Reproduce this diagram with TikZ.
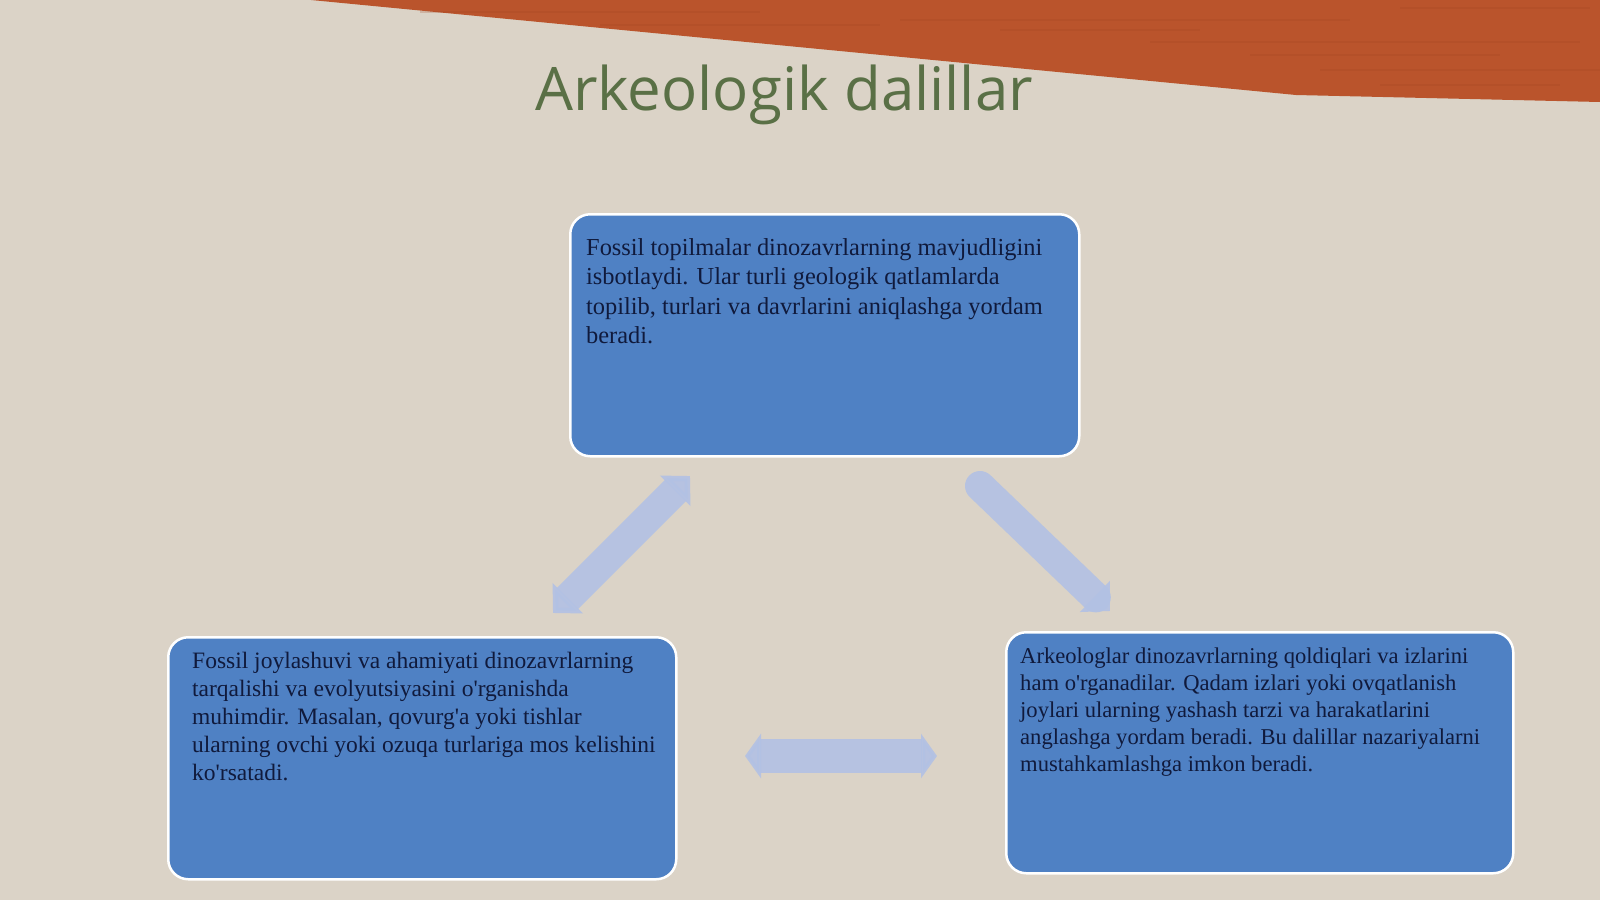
\documentclass[tikz,border=0pt]{standalone}
\usepackage{fontspec}
\setmainfont{Liberation Serif}
\newfontfamily\titlefont{Open Sans}
\usetikzlibrary{arrows.meta}
\definecolor{bgbeige}{RGB}{219,211,199}
\definecolor{bandred}{RGB}{186,84,44}
\definecolor{banddark}{RGB}{160,66,32}
\definecolor{boxblue}{RGB}{79,129,196}
\definecolor{txtnavy}{RGB}{16,26,60}
\definecolor{titlegreen}{RGB}{90,112,70}
\definecolor{arrowblue}{RGB}{178,193,228}
\newcommand{\apq}{\textquotesingle}
\tikzset{
  infobox/.style={draw=white, line width=2.5pt, fill=boxblue, rounded corners=20pt, anchor=north west, inner sep=0pt},
  boxtext/.style={anchor=base west, align=left, inner sep=0pt, text=txtnavy},
  blockarrow/.style={draw=arrowblue, line width=30pt, opacity=0.9},
}
\begin{document}
\begin{tikzpicture}[x=1pt,y=-1pt]
\useasboundingbox (0,0) rectangle (1600,900);
% background
\fill[bgbeige] (0,0) rectangle (1600,900);
% red band
\fill[bandred] (311,0) -- (1296,95) -- (1470,99) -- (1600,102) -- (1600,0) -- cycle;
\foreach \yy/\xa/\xb in {12/420/760, 20/900/1350, 30/1000/1200, 42/1150/1580, 55/1250/1500, 70/1320/1600, 85/1380/1560, 8/1400/1590, 25/600/880}{
  \draw[banddark,line width=2pt,opacity=0.22] (\xa,\yy) -- (\xb,\yy);
}
% title
\node[anchor=base, text=titlegreen, font=\titlefont\fontsize{60}{68}\selectfont] (title) at (784,110) {Arkeologik dalillar};
% boxes
\node[infobox, minimum width=509pt, minimum height=242pt] (top) at (569,213) {};
\node[infobox, minimum width=508pt, minimum height=242pt] (left) at (167,636) {};
\node[infobox, minimum width=507pt, minimum height=241pt] (right) at (1005,631) {};
% texts (base anchor = baseline of last line)
\node[boxtext, font=\fontsize{24.4}{29.6}\selectfont] (toptext) at (586,343.8)
 {Fossil topilmalar dinozavrlarning mavjudligini\\isbotlaydi. Ular turli geologik qatlamlarda\\topilib, turlari va davrlarini aniqlashga yordam\\beradi.};
\node[boxtext, font=\fontsize{23.5}{28}\selectfont] (lefttext) at (192,780)
 {Fossil joylashuvi va ahamiyati dinozavrlarning\\tarqalishi va evolyutsiyasini o\apq rganishda\\muhimdir. Masalan, qovurg\apq a yoki tishlar\\ularning ovchi yoki ozuqa turlariga mos kelishini\\ko\apq rsatadi.};
\node[boxtext, font=\fontsize{22.6}{27}\selectfont] (righttext) at (1020,771)
 {Arkeologlar dinozavrlarning qoldiqlari va izlarini\\ham o\apq rganadilar. Qadam izlari yoki ovqatlanish\\joylari ularning yashash tarzi va harakatlarini\\anglashga yordam beradi. Bu dalillar nazariyalarni\\mustahkamlashga imkon beradi.};
% arrows
\coordinate (la) at (553,613);
\coordinate (lb) at (690,476);
\coordinate (ra) at (980,486);
\coordinate (rb) at (1110,611);
\coordinate (ha) at (745,756);
\coordinate (hb) at (937,756);
\draw[blockarrow, {Triangle[width=42pt,length=21pt]}-{Triangle[width=42pt,length=21pt]}] (la) -- (lb);
\draw[blockarrow, line cap=round, -{Triangle[width=42pt,length=21pt]}] (ra) -- (rb);
\draw[blockarrow, line width=34pt, {Triangle[width=44pt,length=16pt]}-{Triangle[width=44pt,length=16pt]}] (ha) -- (hb);
\end{tikzpicture}
\end{document}
